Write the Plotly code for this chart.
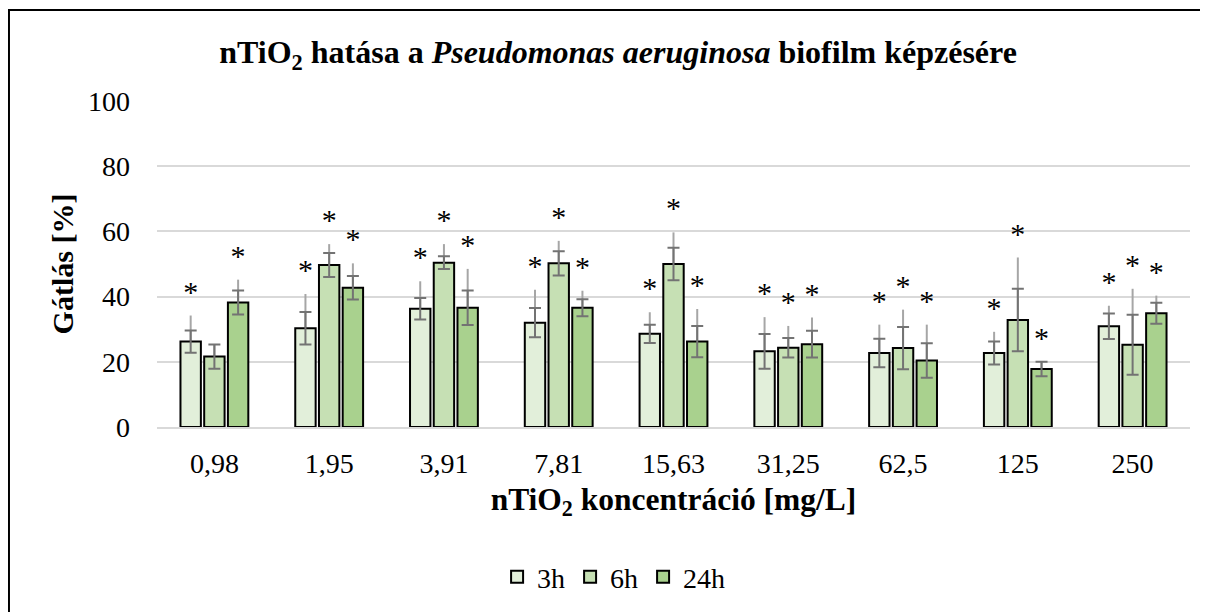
import plotly.graph_objects as go

categories = ["0,98", "1,95", "3,91", "7,81", "15,63", "31,25", "62,5", "125", "250"]
series_names = ["3h", "6h", "24h"]

mean_3h = [26.2, 30.3, 36.3, 32.0, 28.6, 23.2, 22.7, 22.7, 30.9]
mean_6h = [21.6, 49.7, 50.4, 50.2, 50.0, 24.3, 24.2, 32.8, 25.2]
mean_24h = [38.2, 42.7, 36.6, 36.6, 26.2, 25.4, 20.4, 17.8, 34.9]

# symmetric (dark, capped) error
err_3h = [3.4, 5.0, 3.3, 4.5, 2.8, 5.3, 4.4, 3.5, 3.9]
err_6h = [3.7, 3.7, 1.95, 3.7, 5.0, 3.0, 6.5, 9.6, 9.2]
err_24h = [3.7, 3.6, 5.3, 2.6, 4.8, 4.1, 5.3, 2.2, 3.2]

# upper-only (light, uncapped) error
up_3h = [8.0, 10.5, 8.4, 10.1, 6.6, 10.5, 8.7, 6.5, 6.3]
up_6h = [3.7, 6.4, 5.7, 6.9, 9.7, 6.7, 11.8, 19.2, 17.2]
up_24h = [7.0, 7.5, 11.9, 5.2, 10.0, 8.2, 11.0, 2.2, 5.4]

# significance markers
sig_3h = ["*", "*", "*", "*", "*", "*", "*", "*", "*"]
sig_6h = [" ", "*", "*", "*", "*", "*", "*", "*", "*"]
sig_24h = ["*", "*", "*", "*", "*", "*", "*", "*", "*"]

colors = ["#E2EFDA", "#C6E0B4", "#A9D18E"]
FONT = "'Liberation Serif', 'Times New Roman', Times, serif"
STAR_PAD = 1.5  # small visual gap between error bar tip and asterisk

means = [mean_3h, mean_6h, mean_24h]
errs = [err_3h, err_6h, err_24h]
ups = [up_3h, up_6h, up_24h]
sigs = [sig_3h, sig_6h, sig_24h]

fig = go.Figure()
for i, name in enumerate(series_names):
    g = "g%d" % i
    tops = [m + u + STAR_PAD for m, u in zip(means[i], ups[i])]
    fig.add_trace(go.Bar(
        x=categories, y=tops, offsetgroup=g, showlegend=False,
        marker=dict(color="rgba(0,0,0,0)", line=dict(width=0)),
        text=sigs[i], textposition="outside", constraintext="none",
        cliponaxis=False,
        outsidetextfont=dict(family=FONT, size=30, color="black"),
        hoverinfo="skip",
    ))
    fig.add_trace(go.Bar(
        x=categories, y=means[i], offsetgroup=g, showlegend=False,
        marker=dict(color="rgba(0,0,0,0)", line=dict(width=0)),
        error_y=dict(type="data", symmetric=False, array=ups[i],
                     arrayminus=[0] * len(categories),
                     color="#A6A6A6", thickness=2, width=0),
        hoverinfo="skip",
    ))
    fig.add_trace(go.Bar(
        x=categories, y=means[i], offsetgroup=g, name=name,
        marker=dict(color=colors[i], line=dict(color="black", width=2)),
        error_y=dict(type="data", array=errs[i], color="#737373",
                     thickness=2, width=6),
    ))

fig.update_layout(
    width=1208, height=612,
    margin=dict(l=149, r=26, t=93, b=193),
    paper_bgcolor="white", plot_bgcolor="white",
    barmode="group", bargap=0.38, bargroupgap=0.14,
    font=dict(family=FONT, color="black"),
    title=dict(
        text="<b>nTiO<sub>2</sub> hatása a <i>Pseudomonas aeruginosa</i> biofilm képzésére</b>",
        x=0.505, xanchor="center", y=0.928, yanchor="middle",
        font=dict(family=FONT, size=32, color="black"),
    ),
    legend=dict(
        orientation="h", x=0.442, xanchor="center", y=-0.46, yanchor="middle",
        font=dict(family=FONT, size=28, color="black"),
        itemwidth=30, traceorder="normal",
    ),
    shapes=[dict(type="rect", xref="paper", yref="paper",
                 x0=-0.1433, x1=1.1, y0=-0.7, y1=1.279,
                 line=dict(color="black", width=2), layer="below")],
)
fig.update_yaxes(
    range=[0, 100], dtick=20, showgrid=True, gridcolor="#D9D9D9", gridwidth=2,
    zeroline=False, showline=False,
    tickfont=dict(family=FONT, size=28), ticklabelstandoff=26,
    title=dict(text="<b>Gátlás [%]</b>", font=dict(family=FONT, size=30), standoff=5),
)
fig.update_xaxes(
    showline=True, linecolor="#D9D9D9", linewidth=2, showgrid=False,
    tickfont=dict(family=FONT, size=28), ticklabelstandoff=10,
    title=dict(text="<b>nTiO<sub>2</sub> koncentráció [mg/L]</b>",
               font=dict(family=FONT, size=31.5), standoff=10),
)

fig.write_html("out.html")
